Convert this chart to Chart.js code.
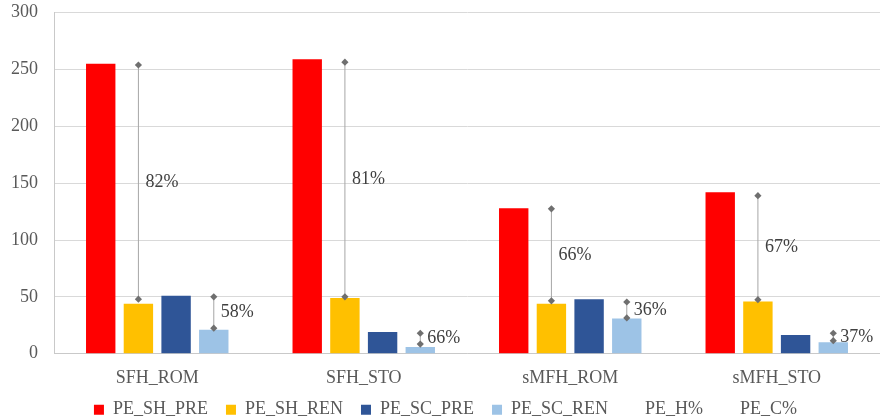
<!DOCTYPE html>
<html>
<head>
<meta charset="utf-8">
<script src="https://cdn.jsdelivr.net/npm/chart.js@4/dist/chart.umd.min.js"></script>
<style>
  html, body { margin: 0; padding: 0; background: #ffffff; }
  #wrap { width: 880px; height: 420px; position: relative; }
</style>
</head>
<body>
<div id="wrap"><canvas id="chart"></canvas></div>
<script>
// Building types
const categories = ['SFH_ROM', 'SFH_STO', 'sMFH_ROM', 'sMFH_STO'];

// Primary energy, space heating / space cooling
const peShPre = [255, 259, 128, 142];
const peShRen = [44, 49, 44, 46];
const peScPre = [51, 19, 48, 16.5];
const peScRen = [21, 6, 31, 10];

// Ranges behind the renewable shares (upper and lower end)
const peHHigh = [254, 256.5, 127.5, 139];
const peHLow  = [48, 50, 46.5, 47.5];
const peCHigh = [50, 18, 45.5, 18];
const peCLow  = [22.5, 8.5, 31.5, 11.5];

// Renewable shares, in percent
const peHPct = [82, 81, 66, 67];
const peCPct = [58, 66, 36, 37];

// Value axis
const yMin = 0, yMax = 300, yStep = 50;

const FONT = "'Liberation Serif', 'Times New Roman', serif";
const TEXT = '#595959';

const pairs = (lo, hi) => lo.map((v, i) => [v, hi[i]]);

function diamond(ctx, x, y, r) {
  ctx.beginPath();
  ctx.moveTo(x, y - r);
  ctx.lineTo(x + r, y);
  ctx.lineTo(x, y + r);
  ctx.lineTo(x - r, y);
  ctx.closePath();
  ctx.fill();
}

// End markers and share labels on the range whiskers
const rangeMarks = {
  id: 'rangeMarks',
  afterDatasetsDraw(chart) {
    const ctx = chart.ctx;
    ctx.save();
    ctx.font = '18px ' + FONT;
    ctx.textAlign = 'left';
    ctx.textBaseline = 'middle';
    [[4, peHPct], [5, peCPct]].forEach(([di, pct]) => {
      const meta = chart.getDatasetMeta(di);
      meta.data.forEach((el, i) => {
        const { x, y, base } = el.getProps(['x', 'y', 'base'], true);
        ctx.fillStyle = '#6F6F6F';
        diamond(ctx, x, y, 3.6);
        diamond(ctx, x, base, 3.6);
        ctx.fillStyle = '#404040';
        ctx.fillText(pct[i] + '%', x + 7, (y + base) / 2);
      });
    });
    ctx.restore();
  }
};

// Pull the legend row a little closer to the category labels
const legendLift = {
  id: 'legendLift',
  afterLayout(chart) {
    const lg = chart.legend;
    if (lg) { lg.top -= 7; lg.bottom -= 7; }
  }
};

const barCommon = { borderWidth: 0, categoryPercentage: 0.73, barPercentage: 0.78 };
const whisker = { backgroundColor: '#A6A6A6', borderWidth: 0, maxBarThickness: 1, categoryPercentage: 0.73, barPercentage: 0.78 };

new Chart(document.getElementById('chart'), {
  type: 'bar',
  data: {
    labels: categories,
    datasets: [
      { label: 'PE_SH_PRE', data: peShPre, backgroundColor: '#FF0000', stack: 'a', ...barCommon },
      { label: 'PE_SH_REN', data: peShRen, backgroundColor: '#FFC000', stack: 'b', ...barCommon },
      { label: 'PE_SC_PRE', data: peScPre, backgroundColor: '#2F5597', stack: 'c', ...barCommon },
      { label: 'PE_SC_REN', data: peScRen, backgroundColor: '#9DC3E6', stack: 'd', ...barCommon },
      { label: 'PE_H%', data: pairs(peHLow, peHHigh), stack: 'b', ...whisker },
      { label: 'PE_C%', data: pairs(peCLow, peCHigh), stack: 'd', ...whisker }
    ]
  },
  options: {
    responsive: true,
    maintainAspectRatio: false,
    animation: false,
    layout: { padding: { top: 12.7, left: 11, right: 0, bottom: -15.7 } },
    scales: {
      x: {
        grid: { display: false, drawTicks: false },
        border: { display: true, color: '#C9C9C9', width: 1 },
        ticks: { color: TEXT, font: { family: FONT, size: 18 }, padding: 14 },
        afterFit(scale) { scale.height = 36; scale.paddingLeft = 0; scale.paddingRight = 0; }
      },
      y: {
        stacked: false,
        min: yMin,
        max: yMax,
        ticks: { stepSize: yStep, color: TEXT, font: { family: FONT, size: 18 }, padding: 16 },
        grid: { color: '#D9D9D9', drawTicks: false },
        border: { display: true, color: '#C9C9C9', width: 1 },
        afterFit(scale) { scale.width = 43; scale.paddingTop = 0; scale.paddingBottom = 0; }
      }
    },
    plugins: {
      tooltip: { enabled: false },
      legend: {
        position: 'bottom',
        labels: {
          color: TEXT,
          font: { family: FONT, size: 18 },
          boxWidth: 10,
          boxHeight: 10,
          padding: 18,
          generateLabels(chart) {
            const items = Chart.defaults.plugins.legend.labels.generateLabels(chart);
            items.forEach(it => {
              it.lineWidth = 0;
              if (it.datasetIndex >= 4) {
                it.fillStyle = 'rgba(0,0,0,0)';
                it.strokeStyle = 'rgba(0,0,0,0)';
              }
            });
            return items;
          }
        }
      }
    }
  },
  plugins: [rangeMarks, legendLift]
});
</script>
</body>
</html>
